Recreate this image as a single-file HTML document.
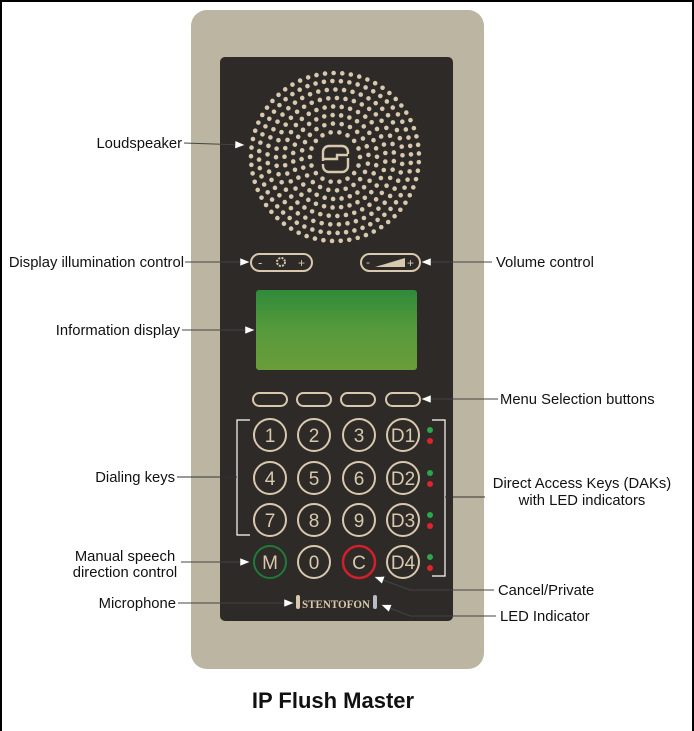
<!DOCTYPE html>
<html><head><meta charset="utf-8"><style>
body{margin:0;width:694px;height:729px;background:#fff;overflow:hidden;font-family:"Liberation Sans",sans-serif;}
.frame{position:absolute;left:0;top:0;width:690px;height:729px;border-left:2px solid #000;border-top:2px solid #000;border-right:2px solid #000;}
</style></head><body>
<div class="frame"></div>
<svg id="s" width="694" height="729" style="position:absolute;left:0;top:0" font-family="Liberation Sans, sans-serif">
<defs>
<linearGradient id="g" x1="0" y1="0" x2="0" y2="1"><stop offset="0" stop-color="#2f8a3a"/><stop offset="0.5" stop-color="#579a3c"/><stop offset="1" stop-color="#6a9c3a"/></linearGradient>
<marker id="a" markerWidth="10" markerHeight="8" refX="9" refY="4" orient="auto" markerUnits="userSpaceOnUse"><path d="M0,0 L10,4 L0,8 Z" fill="#fff" stroke="#333" stroke-width="0.5"/></marker>
</defs>
<rect x="191" y="10" width="293" height="659" rx="16" fill="#bbb5a2"/>
<rect x="220" y="57" width="233" height="564" rx="5" fill="#2e2a27"/>
<g id="dots" fill="#d8c9ae"></g>
<g fill="none" stroke="#d8c9ae" stroke-width="2.4">
<path d="M323,161 v-9 a6,6 0 0 1 6,-6 h13 a6,6 0 0 1 6,6 v2 M348,152 v0 M348,158 v8 a6,6 0 0 1 -6,6 h-13 a6,6 0 0 1 -6,-6 v-2 M323,159 h14 v-4 h11"/>
</g>
<rect x="251" y="254" width="61" height="17" rx="8.5" fill="none" stroke="#d8c9ae" stroke-width="2"/>
<text x="258" y="267" fill="#d8c9ae" font-size="13">-</text><text x="298" y="267" fill="#d8c9ae" font-size="12">+</text>
<circle cx="281" cy="262" r="4" fill="none" stroke="#d8c9ae" stroke-width="2" stroke-dasharray="2 1.2"/>
<rect x="361" y="254" width="59" height="17" rx="8.5" fill="none" stroke="#d8c9ae" stroke-width="2"/>
<text x="366" y="266" fill="#d8c9ae" font-size="12">-</text><text x="407" y="267" fill="#d8c9ae" font-size="12">+</text>
<path d="M375,267 L405,258 L405,267 Z" fill="#d8c9ae"/>
<rect x="256" y="290" width="161" height="80" rx="3" fill="url(#g)"/>
<g fill="none" stroke="#d8c9ae" stroke-width="2">
<rect x="253" y="393" width="34" height="13" rx="6.5"/><rect x="297" y="393" width="34" height="13" rx="6.5"/>
<rect x="341" y="393" width="34" height="13" rx="6.5"/><rect x="386" y="393" width="34" height="13" rx="6.5"/>
</g>
<g id="keys" font-size="19" text-anchor="middle" fill="#d8c9ae"></g>
<rect x="296" y="595" width="4" height="14" rx="2" fill="#d8c9ae"/>
<rect x="373" y="595" width="4" height="14" rx="2" fill="#b8bcc4"/>
<text x="336" y="608" text-anchor="middle" fill="#d8c9ae" font-size="12" font-weight="bold" font-family="Liberation Serif, serif" textLength="68" lengthAdjust="spacingAndGlyphs">STENTOFON</text>
<g stroke="#fff" stroke-width="1.2" fill="none">
<path d="M250,420 h-13 v115 h13"/><path d="M432,420 h13 v156 h-13"/>
</g>
<g stroke="#333" stroke-width="1" fill="none">
<path d="M237,477 h-60"/><path d="M445,497 h40"/>
</g>
<g stroke="#444" stroke-width="1.1" fill="none" marker-end="url(#a)">
<line x1="184" y1="143" x2="244" y2="145"/>
<line x1="185" y1="262" x2="249" y2="262"/>
<line x1="492" y1="262" x2="422" y2="262"/>
<line x1="182" y1="330" x2="254" y2="330"/>
<line x1="498" y1="399" x2="422" y2="399"/>
<line x1="181" y1="562" x2="249" y2="562"/>
<polyline points="494,590 410,590 375,577"/>
<line x1="178" y1="603" x2="293" y2="603"/>
<polyline points="496,616 410,616 382,605"/>
</g>
<g font-size="14.8" fill="#111">
<text x="182" y="148" text-anchor="end">Loudspeaker</text>
<text x="184" y="267" text-anchor="end">Display illumination control</text>
<text x="496" y="267">Volume control</text>
<text x="180" y="335" text-anchor="end">Information display</text>
<text x="500" y="404">Menu Selection buttons</text>
<text x="175" y="482" text-anchor="end">Dialing keys</text>
<text x="582" y="488" text-anchor="middle">Direct Access Keys (DAKs)</text>
<text x="582" y="505" text-anchor="middle">with LED indicators</text>
<text x="125" y="561" text-anchor="middle">Manual speech</text>
<text x="125" y="577" text-anchor="middle">direction control</text>
<text x="498" y="595">Cancel/Private</text>
<text x="176" y="608" text-anchor="end">Microphone</text>
<text x="500" y="621">LED Indicator</text>
</g>
<text x="333" y="708" text-anchor="middle" font-size="22" font-weight="bold" fill="#111">IP Flush Master</text>
</svg>
<script>
var ns="http://www.w3.org/2000/svg";
var d=document.getElementById("dots"),cx=335,cy=157;
var radii=[25,33.5,42,50.5,59,67.5,76,84];
radii.forEach(function(r,i){var n=Math.round(2*Math.PI*r/8.6);for(var k=0;k<n;k++){var t=2*Math.PI*k/n+i*0.2;var c=document.createElementNS(ns,"circle");c.setAttribute("cx",cx+r*Math.cos(t));c.setAttribute("cy",cy+r*Math.sin(t));c.setAttribute("r",2.3);d.appendChild(c);}});
var K=document.getElementById("keys");
var xs=[270,314,359,403],ys=[435,478,520,562];
var labels=[["1","2","3","D1"],["4","5","6","D2"],["7","8","9","D3"],["M","0","C","D4"]];
for(var r=0;r<4;r++)for(var c=0;c<4;c++){var ci=document.createElementNS(ns,"circle");ci.setAttribute("cx",xs[c]);ci.setAttribute("cy",ys[r]);ci.setAttribute("r",16);ci.setAttribute("fill","none");var col="#d8c9ae";if(labels[r][c]=="M")col="#1f7a3a";if(labels[r][c]=="C")col="#d0202a";ci.setAttribute("stroke",col);ci.setAttribute("stroke-width",labels[r][c]=="C"?2.5:2);K.appendChild(ci);var t=document.createElementNS(ns,"text");t.setAttribute("x",xs[c]);t.setAttribute("y",ys[r]+7);t.textContent=labels[r][c];K.appendChild(t);}
for(var r=0;r<4;r++){[["#2aa84a",-5],["#e0242a",6]].forEach(function(p){var e=document.createElementNS(ns,"circle");e.setAttribute("cx",430);e.setAttribute("cy",ys[r]+p[1]);e.setAttribute("r",3);e.setAttribute("fill",p[0]);K.appendChild(e);});}
</script>
</body></html>
